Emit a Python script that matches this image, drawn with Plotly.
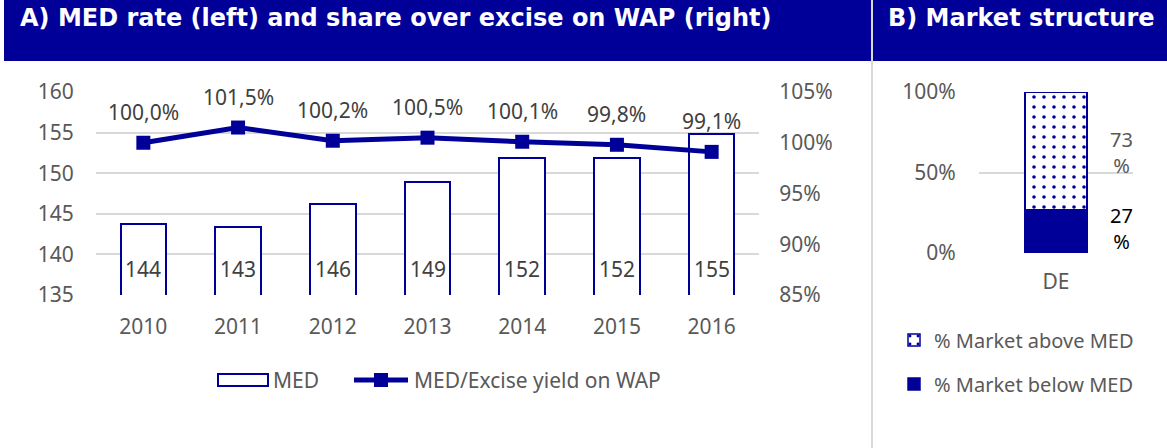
import plotly.graph_objects as go

years = ["2010", "2011", "2012", "2013", "2014", "2015", "2016"]
med = [143.7, 143.4, 146.2, 148.95, 151.9, 151.9, 154.8]
med_labels = ["144", "143", "146", "149", "152", "152", "155"]
ratio = [1.000, 1.015, 1.002, 1.005, 1.001, 0.998, 0.991]
ratio_labels = ["100,0%", "101,5%", "100,2%", "100,5%", "100,1%", "99,8%", "99,1%"]

countries = ["DE"]
above = [0.73]
below = [0.27]
above_labels = ["73<br>%"]
below_labels = ["27<br>%"]

BLUE = "#000099"
GRID = "#d9d9d9"
TXT = "#595959"
FONT = "Noto Sans"
W, H = 1167, 448

def px_x(v):
    return v / W

def px_y(v):
    return 1 - v / H

fig = go.Figure()

fig.add_trace(go.Bar(
    x=years, y=med, name="MED", width=0.48,
    marker=dict(color="white", line=dict(color=BLUE, width=2)),
    xaxis="x", yaxis="y", showlegend=False,
))
fig.add_trace(go.Scatter(
    x=years, y=ratio, name="MED/Excise yield on WAP", mode="lines+markers",
    line=dict(color=BLUE, width=5),
    marker=dict(symbol="square", size=14, color=BLUE),
    xaxis="x", yaxis="y2", showlegend=False,
))

fig.add_trace(go.Bar(
    x=countries, y=below, name="% Market below MED", width=0.4,
    marker=dict(color=BLUE, line=dict(color=BLUE, width=1.5)),
    xaxis="x3", yaxis="y3", legend="legend2", legendgroup="b", legendrank=2,
))
fig.add_trace(go.Bar(
    x=countries, y=above, name="% Market above MED", width=0.4,
    marker=dict(color="white", line=dict(color=BLUE, width=1.5),
                pattern=dict(shape=".", fgcolor=BLUE, bgcolor="white", size=10, solidity=0.1)),
    xaxis="x3", yaxis="y3", legend="legend2", legendgroup="a", legendrank=1,
))

lab_font = dict(family=FONT, size=21, color="#404040")
annotations = []
for i, lab in enumerate(med_labels):
    annotations.append(dict(x=i, y=135, xref="x", yref="y", text=lab, showarrow=False,
                            yanchor="bottom", yshift=10, font=lab_font))
for i, (r, lab) in enumerate(zip(ratio, ratio_labels)):
    annotations.append(dict(x=i, y=r, xref="x", yref="y2", text=lab, showarrow=False,
                            yanchor="bottom", yshift=15, font=lab_font))
for i, (b, a, bl, al) in enumerate(zip(below, above, below_labels, above_labels)):
    annotations.append(dict(x=i, y=b + a / 2, xref="x3", yref="y3", text=al, showarrow=False,
                            xshift=65, align="center", yshift=-2,
                            font=dict(family=FONT, size=20, color=TXT)))
    annotations.append(dict(x=i, y=b / 2, xref="x3", yref="y3", text=bl, showarrow=False,
                            xshift=65, align="center", yshift=3,
                            font=dict(family=FONT, size=20, color="black")))

annotations.append(dict(x=px_x(18), y=px_y(18), xref="paper", yref="paper", xanchor="left", yanchor="middle",
                        text="<b>A) MED rate (left) and share over excise on WAP (right)</b>", showarrow=False,
                        font=dict(family="DejaVu Sans", size=24, color="white")))
annotations.append(dict(x=px_x(886), y=px_y(18), xref="paper", yref="paper", xanchor="left", yanchor="middle",
                        text="<b>B) Market structure</b>", showarrow=False,
                        font=dict(family="DejaVu Sans", size=24, color="white")))

# manual legend for panel A
leg_font = dict(family=FONT, size=21, color=TXT)
annotations.append(dict(x=px_x(271), y=px_y(380), xref="paper", yref="paper", xanchor="left", yanchor="middle",
                        text="MED", showarrow=False, font=leg_font))
annotations.append(dict(x=px_x(412), y=px_y(380), xref="paper", yref="paper", xanchor="left", yanchor="middle",
                        text="MED/Excise yield on WAP", showarrow=False, font=leg_font))

shapes = [
    dict(type="rect", xref="paper", yref="paper", x0=px_x(4), x1=px_x(871), y0=px_y(61), y1=1,
         fillcolor=BLUE, line=dict(width=0), layer="below"),
    dict(type="rect", xref="paper", yref="paper", x0=px_x(873), x1=1, y0=px_y(61), y1=1,
         fillcolor=BLUE, line=dict(width=0), layer="below"),
    dict(type="line", xref="paper", yref="paper", x0=px_x(872), x1=px_x(872), y0=0, y1=1,
         line=dict(color=GRID, width=2)),
    dict(type="rect", xref="paper", yref="paper", x0=px_x(218), x1=px_x(268), y0=px_y(386), y1=px_y(374),
         fillcolor="white", line=dict(color=BLUE, width=2)),
    dict(type="line", xref="paper", yref="paper", x0=px_x(354), x1=px_x(408), y0=px_y(380), y1=px_y(380),
         line=dict(color=BLUE, width=5)),
    dict(type="rect", xref="paper", yref="paper", x0=px_x(374), x1=px_x(388), y0=px_y(387), y1=px_y(373),
         fillcolor=BLUE, line=dict(width=0)),
]

tickfont = dict(family=FONT, size=21, color=TXT)

fig.update_layout(
    template="none",
    width=W, height=H,
    autosize=False,
    margin=dict(l=0, r=0, t=0, b=0, pad=0),
    paper_bgcolor="white", plot_bgcolor="white",
    barmode="stack",
    showlegend=True,
    xaxis=dict(domain=[px_x(96), px_x(759)], type="category", range=[-0.5, len(years) - 0.5],
               tickfont=tickfont, showgrid=False, showline=False, zeroline=False, ticks="outside",
               ticklen=13, tickcolor="rgba(0,0,0,0)", anchor="y", automargin=False),
    yaxis=dict(domain=[px_y(295), px_y(92)], range=[135, 160], dtick=5, tickfont=tickfont,
               showgrid=True, gridcolor=GRID, gridwidth=1.5, zeroline=False, showline=False, ticks="outside",
               ticklen=17, tickcolor="rgba(0,0,0,0)", anchor="x", automargin=False),
    yaxis2=dict(overlaying="y", side="right", range=[0.85, 1.05], dtick=0.05, tickformat=".0%",
                tickfont=tickfont, showgrid=False, zeroline=False, showline=False, anchor="x",
                ticks="outside", ticklen=15, tickcolor="rgba(0,0,0,0)", automargin=False),
    xaxis3=dict(domain=[px_x(979), px_x(1133)], type="category", range=[-0.5, len(countries) - 0.5],
                tickfont=tickfont, showgrid=False, showline=False, zeroline=False, ticks="outside",
                ticklen=10, tickcolor="rgba(0,0,0,0)", anchor="y3", automargin=False),
    yaxis3=dict(domain=[px_y(253), px_y(92)], range=[0, 1], dtick=0.5, tickformat=".0%",
                tickfont=tickfont, showgrid=True, gridcolor=GRID, gridwidth=1.5, zeroline=False,
                showline=False, ticks="outside", ticklen=18, tickcolor="rgba(0,0,0,0)", anchor="x3",
                automargin=False),
    legend2=dict(orientation="v", x=px_x(894), y=px_y(362), xanchor="left", yanchor="middle",
                 font=dict(family=FONT, size=20, color=TXT), traceorder="grouped",
                 tracegroupgap=15, itemwidth=30, bgcolor="rgba(0,0,0,0)"),
    annotations=annotations,
    shapes=shapes,
)

fig.write_html("out.html", config={"displayModeBar": False},
               post_script="document.body.style.margin='0';")
